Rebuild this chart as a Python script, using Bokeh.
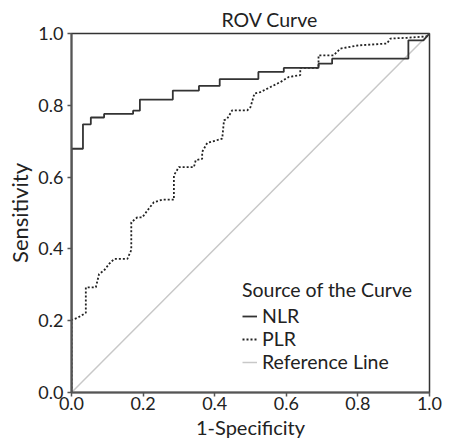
from bokeh.plotting import figure
from bokeh.models import Legend, LegendItem, FixedTicker, PrintfTickFormatter, Title
from bokeh.embed import file_html
from bokeh.resources import INLINE

# ---- data ----
nlr_fpr = [0.0, 0.0, 0.032, 0.032, 0.054, 0.054, 0.091, 0.091, 0.172, 0.172, 0.191, 0.191,
           0.283, 0.283, 0.356, 0.356, 0.414, 0.414, 0.522, 0.522, 0.593, 0.593, 0.690, 0.690,
           0.728, 0.728, 0.941, 0.941, 0.983, 1.0]
nlr_tpr = [0.0, 0.679, 0.679, 0.747, 0.747, 0.766, 0.766, 0.776, 0.776, 0.785, 0.785, 0.816,
           0.816, 0.841, 0.841, 0.854, 0.854, 0.873, 0.873, 0.893, 0.893, 0.904, 0.904, 0.916,
           0.916, 0.930, 0.930, 0.981, 0.981, 1.0]

plr_fpr = [0.0, 0.0, 0.017, 0.040, 0.040, 0.068, 0.077, 0.091, 0.105, 0.119, 0.156, 0.167,
           0.167, 0.184, 0.198, 0.212, 0.230, 0.254, 0.286, 0.286, 0.300, 0.342, 0.347, 0.365,
           0.365, 0.379, 0.421, 0.426, 0.435, 0.449, 0.491, 0.500, 0.511, 0.528, 0.556, 0.584,
           0.607, 0.639, 0.639, 0.690, 0.690, 0.732, 0.751, 0.802, 0.881, 0.891, 0.937, 0.993, 1.0]
plr_tpr = [0.0, 0.202, 0.208, 0.222, 0.293, 0.293, 0.330, 0.340, 0.358, 0.372, 0.372, 0.397,
           0.474, 0.488, 0.488, 0.507, 0.530, 0.537, 0.537, 0.605, 0.628, 0.628, 0.647, 0.651,
           0.670, 0.695, 0.707, 0.758, 0.763, 0.786, 0.786, 0.795, 0.833, 0.837, 0.851, 0.865,
           0.879, 0.884, 0.904, 0.904, 0.939, 0.939, 0.958, 0.967, 0.972, 0.986, 0.988, 0.992, 1.0]

ref_x = [0.0, 1.0]
ref_y = [0.0, 1.0]

ticks = [0.0, 0.2, 0.4, 0.6, 0.8, 1.0]
series_names = ["NLR", "PLR", "Reference Line"]

FONT = "Lato"
TXT = "#222222"

p = figure(width=457, height=443, output_backend="svg", toolbar_location=None,
           x_range=(0, 1), y_range=(0, 1),
           min_border_left=71, min_border_right=28, min_border_top=33, min_border_bottom=51)
p.title = None
p.add_layout(Title(text="ROV Curve", align="left", offset=150, text_font=FONT,
                   text_font_size="19.5px", text_font_style="normal", text_color=TXT,
                   standoff=6), "above")

p.xgrid.visible = False
p.ygrid.visible = False
p.background_fill_color = "white"
p.border_fill_color = "white"
p.outline_line_color = "#333333"
p.outline_line_width = 1.5

for ax in (p.xaxis[0], p.yaxis[0]):
    ax.ticker = FixedTicker(ticks=ticks)
    ax.formatter = PrintfTickFormatter(format="%.1f")
    ax.minor_tick_line_color = None
    ax.major_tick_in = 0
    ax.major_tick_out = 4
    ax.major_tick_line_color = "#555555"
    ax.major_tick_line_width = 1.5
    ax.axis_line_color = "#555555"
    ax.axis_line_width = 2
    ax.major_label_text_font = FONT
    ax.major_label_text_font_size = "18px"
    ax.major_label_text_color = TXT
    ax.axis_label_text_font = FONT
    ax.axis_label_text_font_style = "normal"
    ax.axis_label_text_color = TXT
    ax.axis_label_standoff = 2

p.xaxis.axis_label_text_font_size = "20px"
p.yaxis.axis_label_text_font_size = "22px"
p.xaxis.major_label_standoff = 0
p.yaxis.major_label_standoff = 4
p.xaxis.axis_label = "1-Specificity"
p.yaxis.axis_label = "Sensitivity"

r_ref = p.line(ref_x, ref_y, line_color="#c8c8c8", line_width=1.5)
r_plr = p.line(plr_fpr, plr_tpr, line_color="#222222", line_width=1.8, line_dash="2 2")
r_nlr = p.line(nlr_fpr, nlr_tpr, line_color="#333333", line_width=1.8)

legend = Legend(items=[LegendItem(label=series_names[0], renderers=[r_nlr]),
                       LegendItem(label=series_names[1], renderers=[r_plr]),
                       LegendItem(label=series_names[2], renderers=[r_ref])],
                location=(171, 19), title="Source of the Curve",
                title_text_font=FONT, title_text_font_size="19.5px", title_text_font_style="normal",
                title_text_color=TXT, title_standoff=3,
                label_text_font=FONT, label_text_font_size="19.5px", label_text_color=TXT,
                glyph_width=15, glyph_height=22, label_height=22, label_standoff=5,
                spacing=0, padding=0, margin=0,
                border_line_color=None, background_fill_alpha=0)
p.add_layout(legend, "center")

open("out.html", "w").write(file_html(p, INLINE))
